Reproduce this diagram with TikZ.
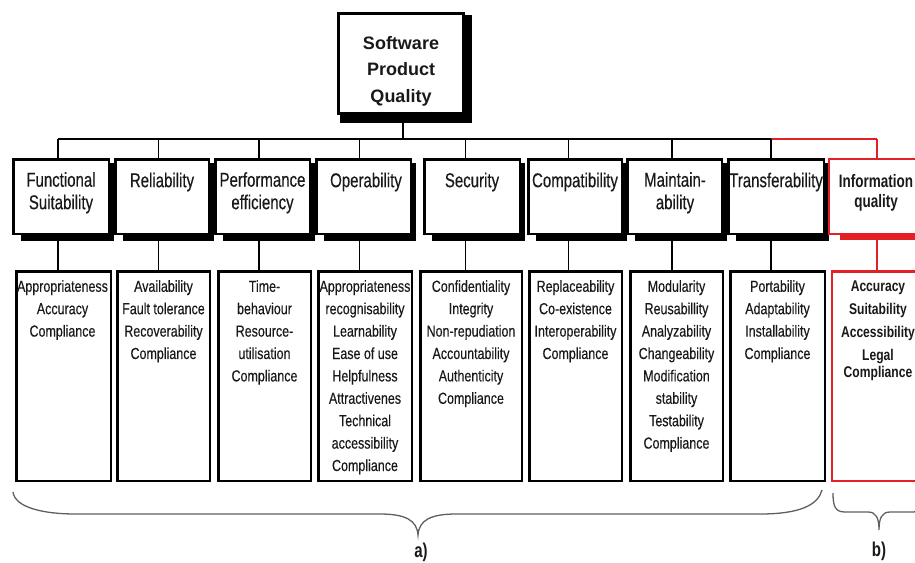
\documentclass[tikz,border=0pt]{standalone}
\usepackage{fontspec}
\setmainfont{Liberation Sans}
\newfontfamily\narrowfont[FakeStretch=0.75, UprightFeatures={FakeBold=0.35}]{Liberation Sans}
\newfontfamily\listfont[FakeStretch=0.78, UprightFeatures={FakeBold=0.25}]{Liberation Sans}
\definecolor{redq}{RGB}{226,32,38}
\definecolor{txt}{RGB}{25,25,25}
\definecolor{bracegray}{RGB}{95,95,95}
\begin{document}
\begin{tikzpicture}[x=1pt,y=-1pt,
  topbox/.style={draw=black, line width=2.5pt, fill=white, minimum width=125pt, minimum height=100pt, inner sep=0pt},
  charbox/.style={draw=black, line width=2.5pt, fill=white, minimum height=74.5pt, inner sep=0pt},
  subbox/.style={draw=black, line width=2.5pt, fill=white, minimum height=209.5pt, inner sep=0pt},
  redbox/.style={draw=redq},
  conn/.style={line width=1.8pt, draw=black},
  redconn/.style={line width=1.8pt, draw=redq},
  toptext/.style={font=\bfseries\fontsize{18}{26.5}\selectfont, align=center, inner sep=0pt, anchor=north, text=txt,
    execute at begin node={\rule{0pt}{14pt}}},
  chartext/.style={font=\narrowfont\fontsize{20}{22.5}\selectfont, align=center, inner sep=0pt, anchor=north, text=txt,
    execute at begin node={\rule{0pt}{15pt}}},
  infotext/.style={font=\narrowfont\bfseries\fontsize{18}{20}\selectfont, align=center, inner sep=0pt, anchor=north, text=txt,
    execute at begin node={\rule{0pt}{14pt}}},
  subtext/.style={font=\listfont\fontsize{16}{22.4}\selectfont, align=center, inner sep=0pt, anchor=north, text=txt,
    execute at begin node={\rule{0pt}{13pt}}},
  redsubtext/.style={font=\listfont\bfseries\fontsize{15.5}{23}\selectfont, align=center, inner sep=0pt, anchor=north, text=txt,
    execute at begin node={\rule{0pt}{12.5pt}}},
  bracestyle/.style={draw=bracegray, line width=1.3pt},
  labtext/.style={font=\narrowfont\bfseries\fontsize{20}{22}\selectfont, inner sep=0pt, anchor=base, text=txt}
]
\useasboundingbox (0,0) rectangle (915,562);
\clip (0,0) rectangle (915,562);

% top box
\node[topbox] (top) at (401,63.5) {};
\fill ([xshift=3pt]top.south west) rectangle ([xshift=7pt,yshift=-8pt]top.south east);
\fill ([yshift=-3pt]top.north east) rectangle ([xshift=7pt]top.south east);
\node[toptext] (toptxt) at (401,36) {Software\\Product\\Quality};

% characteristic boxes
\foreach \n/\cx/\w in {1/61/95.5,2/162/93.5,3/262.5/94.5,4/363.5/94.5,5/472/95.5,6/575/93.5,7/674.5/94.5,8/776/95.5}{
  \node[charbox, minimum width=\w pt] (a\n) at (\cx,196.5) {};
  \fill ([xshift=9pt]a\n.south west) rectangle ([xshift=4pt,yshift=-6pt]a\n.south east);
  \fill ([yshift=-5pt]a\n.north east) rectangle ([xshift=4pt]a\n.south east);
}
\node[charbox, redbox, line width=2pt, minimum width=96pt] (a9) at (877,196.5) {};
\fill[redq] ([xshift=12pt]a9.south west) rectangle ([xshift=20pt,yshift=-5pt]a9.south east);

\node[chartext] (a1t) at (61,172) {Functional\\Suitability};
\node[chartext] (a2t) at (162,172) {Reliability};
\node[chartext] (a3t) at (262.5,172) {Performance\\efficiency};
\node[chartext] (a4t) at (366,172) {Operability};
\node[chartext] (a5t) at (472,172) {Security};
\node[chartext] (a6t) at (575,172) {Compatibility};
\node[chartext] (a7t) at (675,172) {Maintain-\\ability};
\node[chartext] (a8t) at (776,172) {Transferability};
\node[infotext] (a9t) at (876,174) {Information\\quality};

% sub-characteristic boxes
\foreach \n/\cx/\w in {1/63.5/94.5,2/163.5/92.5,3/264.5/92.5,4/365/93.5,5/471/101.5,6/575.5/92.5,7/676.5/92.5,8/777.5/94.5}{
  \node[subbox, minimum width=\w pt] (b\n) at (\cx,376) {};
}
\node[subbox, redbox, minimum width=92pt] (b9) at (878,376) {};

\node[subtext] (b1t) at (62.5,280) {Appropriateness\\Accuracy\\Compliance};
\node[subtext] (b2t) at (163.5,280) {Availability\\Fault tolerance\\Recoverability\\Compliance};
\node[subtext] (b3t) at (264.5,280) {Time-\\behaviour\\Resource-\\utilisation\\Compliance};
\node[subtext] (b4t) at (365,280) {Appropriateness\\recognisability\\Learnability\\Ease of use\\Helpfulness\\Attractivenes\\Technical\\accessibility\\Compliance};
\node[subtext] (b5t) at (471,280) {Confidentiality\\Integrity\\Non-repudiation\\Accountability\\Authenticity\\Compliance};
\node[subtext] (b6t) at (575.5,280) {Replaceability\\Co-existence\\Interoperability\\Compliance};
\node[subtext] (b7t) at (676.5,280) {Modularity\\Reusabillity\\Analyzability\\Changeability\\Modification\\stability\\Testability\\Compliance};
\node[subtext] (b8t) at (777.5,280) {Portability\\Adaptability\\Installability\\Compliance};
\node[redsubtext] (b9t) at (878,280.5) {Accuracy\\Suitability\\Accessibility\\Legal\\[-5.5pt]Compliance};

% connectors
\foreach \n/\jx in {1/58,2/158.5,3/259,4/359.5,5/465.5,6/568.5,7/672,8/771,9/877}{
  \coordinate (j\n) at (\jx,139);
}
\draw[conn] (top.south -| 403,0) -- (403,139);
\draw[conn] (j1) -- (j8);
\draw[redconn] (j8) -- (j9);
\foreach \n in {1,...,8}{
  \draw[conn] (j\n) -- (j\n |- a\n.north);
  \draw[conn] (j\n |- a\n.south) -- (j\n |- b\n.north);
}
\draw[redconn] (j9) -- (j9 |- a9.north);
\draw[redconn] (j9 |- a9.south) -- (j9 |- b9.north);

% braces
\draw[bracestyle] (13,492) .. controls (15,508) and (45,514) .. (75,514) -- (380,514)
  .. controls (405,514) and (417,520) .. (418,535)
  .. controls (419,520) and (431,514) .. (456,514) -- (760,514)
  .. controls (800,514) and (818,505) .. (822,490);
\draw[bracestyle] (833,493) .. controls (833,506) and (835,512) .. (845,512) -- (868,512)
  .. controls (876,512) and (879,518) .. (879,530)
  .. controls (879,518) and (882,512) .. (890,512) -- (913,512)
  .. controls (921,512) and (925,506) .. (925,493);
\node[labtext] (la) at (421,557) {a)};
\node[labtext] (lb) at (879,556) {b)};
\end{tikzpicture}
\end{document}
